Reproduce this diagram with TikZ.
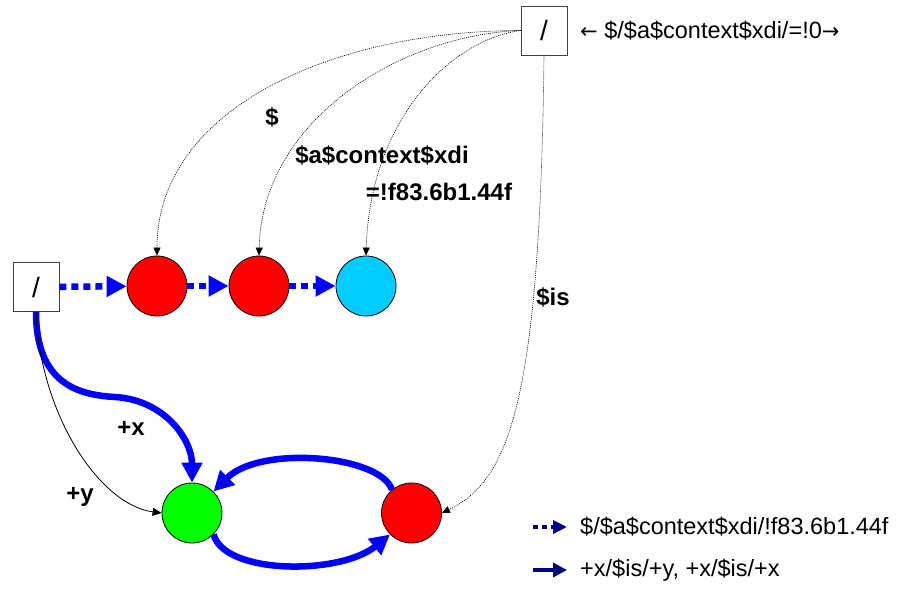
\documentclass[tikz,border=0pt]{standalone}
\usepackage{fontspec}
\setmainfont{Liberation Sans}
\newfontfamily\arrowfont{DejaVu Sans}
\usetikzlibrary{arrows.meta}
\definecolor{stcyan}{RGB}{0,204,255}
\definecolor{legnavy}{RGB}{0,0,128}
\begin{document}
\begin{tikzpicture}[x=1pt,y=-1pt,
  boxn/.style={draw=black!75, line width=0.8pt, fill=white, minimum width=46pt,
    minimum height=49pt, inner sep=0pt, font=\fontsize{28}{32}\selectfont},
  state/.style={circle, draw=black, line width=0.8pt, minimum size=60pt, inner sep=0pt},
  lbl/.style={font=\fontsize{24}{28}\selectfont\bfseries, inner sep=0pt},
  txt/.style={font=\fontsize{23.5}{28}\selectfont, inner sep=0pt, anchor=west},
  dotflow/.style={blue, line width=6.5pt, dash pattern=on 7pt off 5pt,
    -{Triangle[length=20pt,width=20pt]}},
  flow/.style={blue, line width=6.5pt, -{Triangle[length=20pt,width=20pt]}},
  hint/.style={black, line width=0.6pt, dash pattern=on 1pt off 1pt,
    -{Triangle[length=8pt,width=7pt]}},
  thinarr/.style={black, line width=0.8pt, -{Triangle[length=9pt,width=8pt]}},
  legdot/.style={legnavy, line width=4.5pt, dash pattern=on 5pt off 4pt,
    -{Triangle[length=14pt,width=13pt]}},
  legsolid/.style={legnavy, line width=4.5pt, -{Triangle[length=14pt,width=14pt]}}]
\useasboundingbox (0,0) rectangle (901,593);

% boxes and states
\node[boxn] (tb) at (544,30.5) {/};
\node[boxn] (lb) at (36,287) {/};
\node[state, fill=red] (r1) at (157,286) {};
\node[state, fill=red] (r2) at (259,286) {};
\node[state, fill=stcyan] (cy) at (366,286) {};
\node[state, fill=green] (g) at (192,513) {};
\node[state, fill=red] (r3) at (411.5,513) {};

% header text
\node[txt] (head) at (580,31) {{\arrowfont\fontsize{21}{25}\selectfont ←} \$/\$a\$context\$xdi/=!0{\arrowfont\fontsize{21}{25}\selectfont →}};

% dotted chain
\draw[dotflow] (lb) -- (r1);
\draw[dotflow] (r1) -- (r2);
\draw[dotflow] (r2) -- (cy);

% thin dotted hints from the top box
\draw[hint] (tb.west) .. controls (330,31) and (157,110) .. (r1.north);
\draw[hint] (tb.west) .. controls (400,35) and (262,120) .. (r2.north);
\draw[hint] (tb.west) .. controls (450,40) and (370,120) .. (cy.north);
\draw[hint] (tb.south) .. controls (540,400) and (510,480) .. (r3.east);

% transitions
\coordinate (mid) at (115,397);
\draw[flow] (lb.south) .. controls (36,385) and (80,395) .. (mid)
  .. controls (165,400) and (192,440) .. (g.north);
\draw[thinarr] (lb.south) .. controls (40,415) and (100,505) .. (g.west);
\draw[flow] (r3.130) .. controls (380,455) and (260,445) .. (g.45);
\draw[flow] (g.-45) .. controls (225,575) and (340,575) .. (r3.-135);

% labels
\node[lbl] (l1) at (272,117) {\$};
\node[lbl] (l2) at (382,155) {\$a\$context\$xdi};
\node[lbl] (l3) at (439,192) {=!f83.6b1.44f};
\node[lbl] (l4) at (553,297) {\$is};
\node[lbl] (l5) at (131,428) {+x};
\node[lbl] (l6) at (80,497) {+y};

% legend
\coordinate (a1) at (533,527);
\coordinate (a2) at (567,527);
\coordinate (b1) at (533,570);
\coordinate (b2) at (567,570);
\draw[legdot] (a1) -- (a2);
\draw[legsolid] (b1) -- (b2);
\node[txt] (t1) at (580,527) {\$/\$a\$context\$xdi/!f83.6b1.44f};
\node[txt] (t2) at (580,570) {+x/\$is/+y, +x/\$is/+x};
\end{tikzpicture}
\end{document}
